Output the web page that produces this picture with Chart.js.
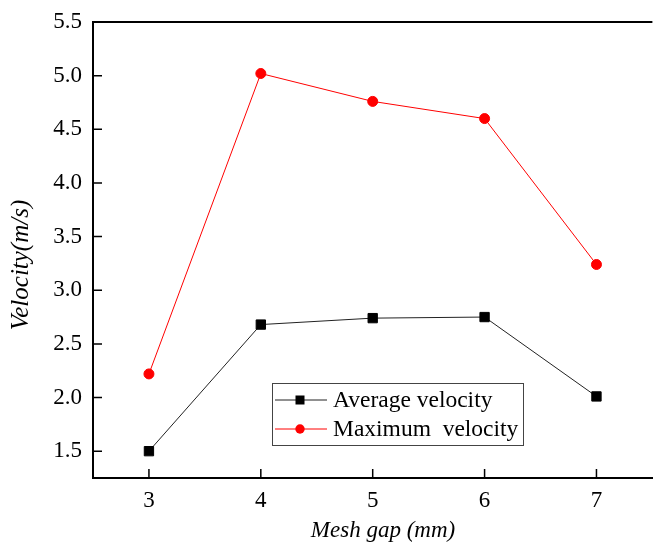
<!DOCTYPE html>
<html>
<head>
<meta charset="utf-8">
<script src="https://cdn.jsdelivr.net/npm/chart.js@4/dist/chart.umd.min.js"></script>
<style>
  html, body { margin: 0; padding: 0; overflow: hidden; background: #fff; }
  #wrap { width: 655px; height: 545px; overflow: hidden; }
</style>
</head>
<body>
<div id="wrap"><canvas id="chart" width="660" height="545"></canvas></div>
<script>
const meshGap = [3, 4, 5, 6, 7];
const avgVelocity = [1.50, 2.68, 2.74, 2.75, 2.01];
const maxVelocity = [2.22, 5.02, 4.76, 4.60, 3.24];
const xTicks = [3, 4, 5, 6, 7];
const yTicks = [1.5, 2.0, 2.5, 3.0, 3.5, 4.0, 4.5, 5.0, 5.5];

const serif = "'Liberation Serif', 'Times New Roman', serif";

// inward ticks, top frame line, axis titles, legend box inside plot
const decor = {
  id: "decor",
  afterDraw(chart) {
    const { ctx, chartArea: a, scales } = chart;
    ctx.save();
    ctx.strokeStyle = "#000";
    ctx.lineWidth = 2;
    ctx.beginPath();
    ctx.moveTo(a.left, a.top);
    ctx.lineTo(a.right, a.top);
    ctx.stroke();
    ctx.lineWidth = 1.5;
    ctx.beginPath();
    scales.y.ticks.forEach((t) => {
      const y = scales.y.getPixelForValue(t.value);
      ctx.moveTo(a.left, y);
      ctx.lineTo(a.left + 9, y);
    });
    scales.x.ticks.forEach((t) => {
      const x = scales.x.getPixelForValue(t.value);
      ctx.moveTo(x, a.bottom);
      ctx.lineTo(x, a.bottom - 9);
    });
    ctx.stroke();

    // axis titles
    ctx.fillStyle = "#000";
    ctx.textAlign = "center";
    ctx.textBaseline = "middle";
    ctx.font = "italic 23px " + serif;
    ctx.fillText("Mesh gap (mm)", 383, 531);
    ctx.save();
    ctx.translate(21, 265);
    ctx.rotate(-Math.PI / 2);
    ctx.font = "italic 25px " + serif;
    ctx.fillText("Velocity(m/s)", 0, 0);
    ctx.restore();

    // legend
    const bx = a.left + 179, by = a.top + 361, bw = 251, bh = 62;
    ctx.strokeStyle = "#444";
    ctx.lineWidth = 1;
    ctx.strokeRect(bx + 0.5, by + 0.5, bw, bh);
    ctx.textAlign = "left";
    ctx.font = "23.5px " + serif;
    chart.data.datasets.forEach((ds, i) => {
      const ry = by + 17 + i * 29;
      ctx.strokeStyle = ds.borderColor;
      ctx.beginPath();
      ctx.moveTo(bx + 3, ry);
      ctx.lineTo(bx + 55, ry);
      ctx.stroke();
      ctx.fillStyle = ds.pointBackgroundColor;
      if (ds.pointStyle === "rect") {
        ctx.fillRect(bx + 28 - 4.5, ry - 4.5, 9, 9);
      } else {
        ctx.beginPath();
        ctx.arc(bx + 28, ry, 4.7, 0, Math.PI * 2);
        ctx.fill();
      }
      ctx.fillStyle = "#000";
      ctx.fillText(ds.label, bx + 61, ry + 1);
    });
    ctx.restore();
  }
};

new Chart(document.getElementById("chart").getContext("2d"), {
  type: "line",
  data: {
    labels: meshGap,
    datasets: [
      {
        label: "Average velocity",
        data: meshGap.map((x, i) => ({ x, y: avgVelocity[i] })),
        borderColor: "#222",
        borderWidth: 1,
        pointStyle: "rect",
        pointRadius: 6.6,
        pointBackgroundColor: "#000",
        pointBorderColor: "#000",
        pointBorderWidth: 1,
        tension: 0
      },
      {
        label: "Maximum  velocity",
        data: meshGap.map((x, i) => ({ x, y: maxVelocity[i] })),
        borderColor: "#ff0000",
        borderWidth: 1,
        pointStyle: "circle",
        pointRadius: 5,
        pointBackgroundColor: "#ff0000",
        pointBorderColor: "#ff0000",
        pointBorderWidth: 1,
        tension: 0
      }
    ]
  },
  options: {
    responsive: false,
    animation: false,
    events: [],
    layout: { padding: { left: 0, top: 22, right: 2, bottom: 0 } },
    plugins: { legend: { display: false }, tooltip: { enabled: false } },
    scales: {
      x: {
        type: "linear",
        min: 2.5,
        max: 7.5,
        afterBuildTicks: (s) => { s.ticks = xTicks.map((v) => ({ value: v })); },
        afterFit: (s) => { s.height = 67; },
        grid: { display: false },
        border: { display: true, color: "#000", width: 2 },
        ticks: { color: "#000", padding: 1, font: { family: serif, size: 23 } }
      },
      y: {
        min: 1.25,
        max: 5.5,
        afterBuildTicks: (s) => { s.ticks = yTicks.map((v) => ({ value: v })); },
        afterFit: (s) => { s.width = 93; },
        grid: { display: false },
        border: { display: true, color: "#000", width: 2 },
        ticks: {
          color: "#000",
          padding: 3,
          font: { family: serif, size: 23 },
          callback: (v) => Number(v).toFixed(1)
        }
      }
    }
  },
  plugins: [decor]
});
</script>
</body>
</html>
